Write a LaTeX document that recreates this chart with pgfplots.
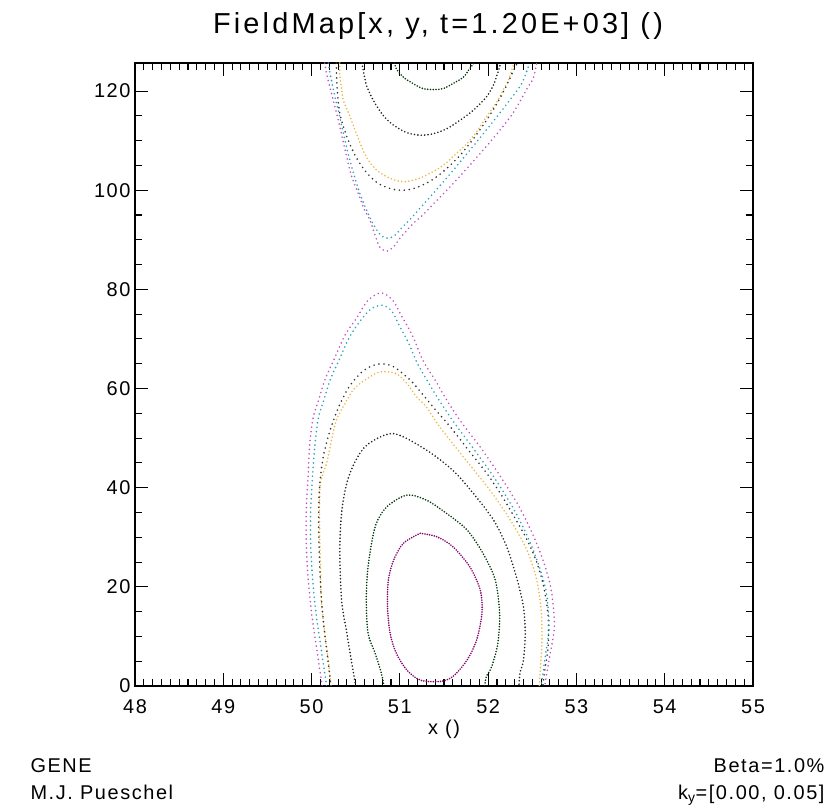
\documentclass[border=0pt]{standalone}
\usepackage{pgfplots}
\pgfplotsset{compat=1.18}
\usepackage{fontspec}
\setmainfont{Liberation Sans}
\definecolor{cA}{RGB}{130,0,110}
\definecolor{cB}{RGB}{0,55,10}
\definecolor{cC}{RGB}{25,40,25}
\definecolor{cD}{RGB}{235,185,70}
\definecolor{cE}{RGB}{50,50,50}
\definecolor{cF}{RGB}{40,160,190}
\definecolor{cG}{RGB}{190,80,200}
\newcommand{\lblfont}{\fontsize{20}{20}\selectfont\addfontfeatures{LetterSpace=8}}
\begin{document}
\begin{tikzpicture}
\useasboundingbox (-135bp,-124bp) rectangle (699bp,686bp);
\begin{axis}[at={(0,0)}, anchor=south west, scale only axis,
  width=618bp, height=623bp,
  xmin=48, xmax=55, ymin=0, ymax=125.66,
  xtick={48,...,55}, ytick={0,20,...,120},
  minor x tick num=9, minor y tick num=3,
  tick align=inside, major tick length=13bp, minor tick length=7bp,
  axis line style={line width=1.4pt},
  every tick/.style={black, line width=1.1pt},
  /pgf/number format/assume math mode=true,
  ticklabel style={font=\lblfont},
  xticklabel style={yshift=-10bp},
  yticklabel style={xshift=-1bp},
  title={FieldMap[x, y, t=1.20E+03] ()},
  title style={at={(axis description cs:0.5,1)}, anchor=base, yshift=24bp, xshift=-6bp,
    font=\fontsize{29}{29}\selectfont\addfontfeatures{LetterSpace=11}},
  xlabel={x ()},
  xlabel style={at={(axis description cs:0.5,0)}, anchor=base, yshift=-48bp,
    font=\lblfont},
  every axis plot/.append style={line cap=round, line width=1.8pt, smooth, tension=0.5},
]
% bottom contours
\addplot[cA, dash pattern=on 0pt off 2.4pt] coordinates {
(51.23,30.8)(51.04,28.8)(50.93,25.4)(50.87,21.4)(50.86,16.0)(50.89,10.6)(50.96,6.6)(51.08,3.2)(51.23,1.2)(51.45,0.9)(51.60,1.9)(51.76,5.2)(51.87,9.3)(51.93,14.7)(51.91,19.4)(51.79,24.1)(51.60,28.1)(51.42,30.1)(51.23,30.8)};
\addplot[cB, dash pattern=on 0pt off 2.8pt] coordinates {
(50.82,0)(50.79,2.6)(50.72,6.6)(50.64,10.6)(50.62,17.3)(50.64,24.1)(50.72,32.1)(50.85,36.1)(51.08,38.5)(51.30,37.5)(51.53,34.8)(51.76,31.5)(51.94,26.8)(52.08,21.4)(52.13,14.7)(52.11,8.6)(52.04,3.9)(51.98,1.9)(51.96,0)};
\addplot[cC, dash pattern=on 0pt off 3.4pt] coordinates {
(50.50,0)(50.45,5.2)(50.40,10.6)(50.34,17.3)(50.32,27.4)(50.34,35.0)(50.40,41.0)(50.50,45.5)(50.64,48.8)(50.93,50.9)(51.30,47.6)(51.60,43.5)(51.83,38.9)(52.06,33.5)(52.21,28.1)(52.32,22.0)(52.40,16.0)(52.42,10.6)(52.40,5.2)(52.36,2.6)(52.35,0)};
\addplot[cD, dash pattern=on 0pt off 3.6pt] coordinates {
(50.22,0)(50.19,5.2)(50.15,10.6)(50.11,17.3)(50.10,24.1)(50.09,34.1)(50.10,40.9)(50.17,44.9)(50.21,48.2)(50.28,53.6)(50.38,57.0)(50.47,59.7)(50.55,61.0)(50.72,63.0)(50.81,63.4)(50.96,63.0)(51.08,61.0)(51.19,58.3)(51.30,56.3)(51.45,52.3)(51.72,46.2)(52.02,39.5)(52.25,33.5)(52.44,27.4)(52.55,21.4)(52.60,15.3)(52.61,9.3)(52.59,3.2)(52.58,0)};
\addplot[cE, dash pattern=on 0pt off 5pt] coordinates {
(50.22,0)(50.18,6)(50.14,12)(50.11,18)(50.09,25)(50.08,33)(50.09,40)(50.13,46)(50.20,51)(50.30,56)(50.42,60.2)(50.55,63.0)(50.65,64.3)(50.75,64.9)(50.85,64.9)(50.94,64.3)(51.02,63.2)(51.13,61.5)(51.25,59.0)(51.40,55.8)(51.57,52.3)(51.78,47.5)(51.98,43.0)(52.15,38.5)(52.30,34.0)(52.44,29.5)(52.55,25.0)(52.63,20.0)(52.68,14.0)(52.68,8.0)(52.64,3.0)(52.62,0)};
\addplot[cF, dash pattern=on 0pt off 4.5pt] coordinates {
(50.17,0)(50.11,7.3)(50.05,14.7)(50.01,22)(49.99,28.8)(49.99,35.5)(50.01,42.1)(50.04,49)(50.08,54.3)(50.14,57.7)(50.21,61.7)(50.31,65.7)(50.43,70.4)(50.55,73.6)(50.67,76.0)(50.80,76.8)(50.91,75.6)(50.99,72.8)(51.09,69.5)(51.20,65.0)(51.33,61.0)(51.45,57.5)(51.62,53.0)(51.85,47.5)(52.07,42.0)(52.28,36.0)(52.45,30.0)(52.58,24.0)(52.66,18.8)(52.69,11.9)(52.65,6.3)(52.60,0)};
\addplot[cG, dash pattern=on 0pt off 4.5pt] coordinates {
(50.12,0)(50.06,7.3)(50.00,14.7)(49.96,22.0)(49.94,28.8)(49.94,35.5)(49.96,42.1)(49.98,49.0)(50.02,54.3)(50.08,57.7)(50.15,61.7)(50.25,65.7)(50.38,70.8)(50.51,74.2)(50.64,77.8)(50.79,79.3)(50.92,77.8)(51.02,74.6)(51.14,70.8)(51.26,65.7)(51.40,61.7)(51.51,58.3)(51.68,53.6)(51.91,48.2)(52.13,42.5)(52.34,36.5)(52.51,30.4)(52.64,24.4)(52.72,18.8)(52.75,11.9)(52.70,6.3)(52.64,0)};
% top contours
\addplot[cB, dash pattern=on 0pt off 2.8pt] coordinates {
(50.94,125.66)(50.96,124.5)(51.04,122.8)(51.15,121.5)(51.26,120.5)(51.38,120.3)(51.49,120.5)(51.60,121.5)(51.72,122.8)(51.79,124.5)(51.84,125.66)};
\addplot[cC, dash pattern=on 0pt off 3.4pt] coordinates {
(50.57,125.66)(50.60,122.8)(50.62,121.2)(50.70,118.1)(50.81,115.1)(50.93,113.1)(51.08,111.6)(51.23,111.1)(51.38,111.4)(51.53,112.4)(51.68,114.1)(51.83,116.1)(51.98,118.8)(52.06,121.2)(52.10,123.2)(52.13,124.9)(52.14,125.66)};
\addplot[cD, dash pattern=on 0pt off 3.6pt] coordinates {
(50.32,125.66)(50.32,123.2)(50.34,120.5)(50.36,118.1)(50.43,115.1)(50.53,110.4)(50.62,106.7)(50.74,104.0)(50.89,102.4)(51.04,101.7)(51.19,102.2)(51.34,103.4)(51.49,105.0)(51.64,107.4)(51.76,109.4)(51.87,111.8)(51.98,114.8)(52.10,117.8)(52.17,120.2)(52.23,122.2)(52.28,124.9)(52.30,125.66)};
\addplot[cE, dash pattern=on 0pt off 5pt] coordinates {
(50.28,125.66)(50.29,120.5)(50.32,115.5)(50.40,110.8)(50.50,106.8)(50.62,103.6)(50.76,101.3)(50.92,100.2)(51.05,100.0)(51.20,100.6)(51.36,102.0)(51.52,104.2)(51.68,107.0)(51.83,110.3)(51.97,113.8)(52.10,117.5)(52.20,120.8)(52.27,123.5)(52.33,125.66)};
\addplot[cF, dash pattern=on 0pt off 4.5pt] coordinates {
(50.19,125.66)(50.21,123.5)(50.26,119.2)(50.31,115.5)(50.36,111.5)(50.42,107)(50.49,102.5)(50.56,98.7)(50.64,95.3)(50.72,92.5)(50.79,90.8)(50.87,90.3)(50.95,91.0)(51.02,92.4)(51.12,94.2)(51.25,96.8)(51.40,99.8)(51.58,103.5)(51.78,107.8)(52.00,112.6)(52.22,117.6)(52.38,121.5)(52.47,125.66)};
\addplot[cG, dash pattern=on 0pt off 4.5pt] coordinates {
(50.15,125.66)(50.17,123.5)(50.23,119.2)(50.27,116.5)(50.32,112.8)(50.38,108.1)(50.45,103.0)(50.53,99.3)(50.60,96.0)(50.66,94.0)(50.72,90.9)(50.77,88.6)(50.85,87.7)(50.93,88.6)(51.00,90.3)(51.08,91.9)(51.15,93.3)(51.26,95.0)(51.40,97.6)(51.57,100.7)(51.79,105.0)(52.04,110.1)(52.28,115.5)(52.45,120.8)(52.51,122.5)(52.55,125.66)};
\end{axis}
\node[anchor=base west, font=\lblfont] at (-108bp,-86bp) {GENE};
\node[anchor=base west, font=\lblfont] at (-108bp,-113bp) {M.J. Pueschel};
\node[anchor=base east, font=\lblfont] at (693bp,-86bp) {Beta=1.0\%};
\node[anchor=base east, font=\lblfont] at (693bp,-113bp) {k\textsubscript{y}=[0.00, 0.05]};
\end{tikzpicture}
\end{document}
